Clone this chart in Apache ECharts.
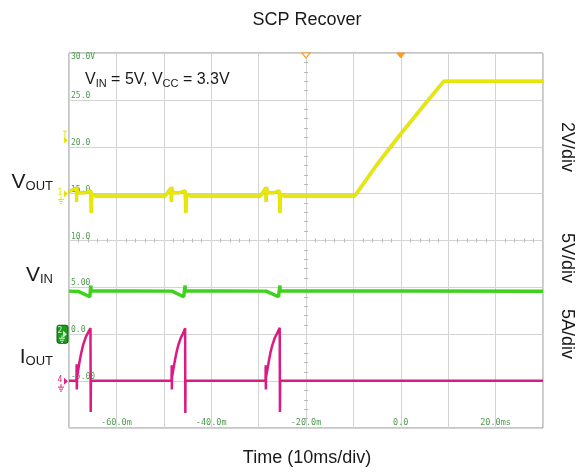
<!DOCTYPE html>
<html>
<head>
<meta charset="utf-8">
<script src="https://cdn.jsdelivr.net/npm/echarts@6/dist/echarts.min.js"></script>
<style>
  html, body { margin: 0; padding: 0; background: #fff; }
  #c { width: 578px; height: 473px; }
</style>
</head>
<body>
<div id="c"></div>
<script>
// Scope capture: time in ms, amplitudes in graticule units (5 per division, as labelled on the left).

// CH1 output voltage
const vout = [
  [-70.0, 15.2], [-68.45, 15.6], [-68.4, 14.1], [-68.35, 15.7], [-68.1, 15.1], [-66.5, 15.1],
  [-65.4, 15.3], [-65.3, 12.95], [-65.2, 14.95], [-64.4, 14.75],
  [-49.7, 14.75], [-48.5, 15.6], [-48.4, 14.1], [-48.35, 15.7], [-48.1, 15.1], [-46.6, 15.1],
  [-45.5, 15.3], [-45.35, 12.95], [-45.25, 14.95], [-44.5, 14.75],
  [-29.6, 14.75], [-28.5, 15.6], [-28.4, 14.1], [-28.35, 15.7], [-28.1, 15.1], [-26.7, 15.1],
  [-25.65, 15.3], [-25.5, 12.95], [-25.4, 14.95], [-24.6, 14.75],
  [-9.7, 14.75], [-5.1, 18.05], [-0.2, 21.25], [5.5, 24.8], [9.1, 27.0], [30.0, 27.0]
];

// CH2 input voltage
const vin = [
  [-70.0, 4.6], [-67.9, 4.55], [-65.6, 4.0], [-65.45, 4.0], [-65.4, 5.2], [-65.35, 4.65],
  [-48.3, 4.6], [-45.8, 4.0], [-45.55, 4.0], [-45.5, 5.2], [-45.45, 4.65],
  [-28.4, 4.6], [-25.8, 4.0], [-25.55, 4.0], [-25.5, 5.2], [-25.45, 4.65],
  [30.0, 4.6]
];

// CH4 output current
const iout = [
  [-70.0, -4.95], [-68.42, -4.95], [-68.38, -3.2], [-68.35, -5.9], [-68.3, -4.6], [-68.05, -3.8],
  [-67.7, -2.7], [-67.35, -1.85], [-67.0, -1.1], [-66.5, -0.35], [-65.95, 0.2], [-65.47, 0.65],
  [-65.42, -8.3], [-65.38, -4.95],
  [-48.36, -4.95], [-48.33, -3.3], [-48.3, -5.9], [-48.27, -4.6], [-48.0, -3.8], [-47.64, -2.75],
  [-47.28, -1.85], [-46.94, -1.15], [-46.43, -0.4], [-45.89, 0.15], [-45.5, 0.65],
  [-45.46, -8.4], [-45.42, -4.95],
  [-28.53, -4.95], [-28.5, -3.3], [-28.47, -5.9], [-28.44, -4.6], [-28.15, -3.8], [-27.8, -2.75],
  [-27.45, -1.85], [-27.1, -1.15], [-26.6, -0.4], [-26.05, 0.15], [-25.55, 0.7],
  [-25.5, -8.3], [-25.46, -4.95], [30.0, -4.95]
];

// Graticule labels
const xTickValues = [-60, -40, -20, 0, 20];
const xTickText = ['-60.0m', '-40.0m', '-20.0m', '0.0', '20.0ms'];
const yTickValues = [-5, 0, 5, 10, 15, 20, 25];
const yTickText = ['-5.00', '0.0', '5.00', '10.0', '15.0', '20.0', '25.0'];
const yTopValue = 30;
const yTopText = '30.0V';

// Channel reference markers on the left edge: [label, level, colour]
const channelMarkers = [
  ['1', 15, '#e3e300'],
  ['2', 0, '#1f9a1f'],
  ['4', -5, '#e0208a']
];
const triggerLevel = 20.7;
// Markers along the top edge (time, filled?)
const topMarkers = [[-20, false], [0, true]];

const SANS = '"Liberation Sans", Arial, sans-serif';
const MONO = '"DejaVu Sans Mono", monospace';
const GRID_COLOR = '#d3d3d3';
const LABEL_GREEN = '#4f9a4f';

const chart = echarts.init(document.getElementById('c'), null, { renderer: 'canvas' });

function crossAxisX(inside) {
  return {
    type: 'value', min: -70, max: 30, interval: 10, position: 'bottom',
    axisLine: { show: !inside, onZero: true, onZeroAxisIndex: 2, lineStyle: { color: GRID_COLOR } },
    axisTick: { show: false, inside: inside },
    minorTick: { show: true, splitNumber: 5, length: 2, lineStyle: { color: '#b8b8b8' } },
    axisLabel: { show: false }, splitLine: { show: false }
  };
}
function crossAxisY(inside) {
  return {
    type: 'value', min: -10, max: 30, interval: 5, position: 'left',
    axisLine: { show: !inside, onZero: true, onZeroAxisIndex: 3, lineStyle: { color: GRID_COLOR } },
    axisTick: { show: false, inside: inside },
    minorTick: { show: true, splitNumber: 5, length: 2, lineStyle: { color: '#b8b8b8' } },
    axisLabel: { show: false }, splitLine: { show: false }
  };
}

const option = {
  animation: false,
  backgroundColor: '#ffffff',
  grid: {
    left: 69, top: 53, width: 474, height: 375,
    show: true, borderColor: '#8c8c8c', borderWidth: 1, backgroundColor: 'transparent'
  },
  xAxis: [
    {
      type: 'value', min: -70, max: 30, interval: 10, position: 'bottom',
      axisLine: { show: false }, axisTick: { show: false },
      splitLine: { show: true, lineStyle: { color: GRID_COLOR, width: 1 } },
      axisLabel: {
        inside: true, margin: 1, fontFamily: MONO, fontSize: 8.5, color: LABEL_GREEN,
        showMinLabel: true, showMaxLabel: true,
        formatter: v => { const i = xTickValues.indexOf(v); return i < 0 ? '' : xTickText[i]; }
      }
    },
    crossAxisX(false),
    crossAxisX(true),
    { type: 'value', min: -50, max: 50, show: false }
  ],
  yAxis: [
    {
      type: 'value', min: -10, max: 30, interval: 5, position: 'left',
      axisLine: { show: false }, axisTick: { show: false },
      splitLine: { show: true, lineStyle: { color: GRID_COLOR, width: 1 } },
      axisLabel: {
        inside: true, margin: 2, verticalAlign: 'bottom', fontFamily: MONO, fontSize: 8, color: LABEL_GREEN,
        showMinLabel: true, showMaxLabel: true,
        formatter: v => { const i = yTickValues.indexOf(v); return i < 0 ? '' : yTickText[i]; }
      }
    },
    {
      type: 'value', min: -10, max: 30, interval: 5, position: 'left',
      axisLine: { show: false }, axisTick: { show: false }, splitLine: { show: false },
      axisLabel: {
        inside: true, margin: 2, verticalAlign: 'top', fontFamily: MONO, fontSize: 8, color: LABEL_GREEN,
        showMinLabel: true, showMaxLabel: true,
        formatter: v => (v === yTopValue ? yTopText : '')
      }
    },
    { type: 'value', min: -40, max: 40, show: false },
    crossAxisY(false),
    crossAxisY(true)
  ],
  series: [
    {
      name: 'VOUT', type: 'line', data: vout, showSymbol: false, xAxisIndex: 0, yAxisIndex: 0,
      lineStyle: { color: '#e8e800', width: 3, shadowColor: 'rgba(160,160,0,0.8)', shadowBlur: 1 },
      z: 5
    },
    {
      name: 'VIN', type: 'line', data: vin, showSymbol: false, xAxisIndex: 0, yAxisIndex: 0,
      lineStyle: { color: '#3ed21c', width: 3.5 }, z: 5
    },
    {
      name: 'IOUT', type: 'line', data: iout, showSymbol: false, xAxisIndex: 0, yAxisIndex: 0,
      lineStyle: { color: '#dc1a82', width: 2.5 }, z: 5
    }
  ],
  graphic: []
};

chart.setOption(option);

// ---------- annotations ----------
const g = [];

g.push({ type: 'text', x: 307, y: 20, style: { text: 'SCP Recover', fontFamily: SANS, fontSize: 18, fill: '#1a1a1a', align: 'center', verticalAlign: 'middle' } });
g.push({ type: 'text', x: 307, y: 458, style: { text: 'Time (10ms/div)', fontFamily: SANS, fontSize: 18, fill: '#1a1a1a', align: 'center', verticalAlign: 'middle' } });

// channel names on the left
function chanName(main, sub, baseline) {
  return {
    type: 'text', x: 53, y: baseline + 3,
    style: {
      text: '{v|' + main + '}{s|' + sub + '}', align: 'right', verticalAlign: 'bottom', fill: '#1a1a1a',
      rich: {
        v: { fontFamily: SANS, fontSize: 21, verticalAlign: 'bottom', fill: '#1a1a1a' },
        s: { fontFamily: SANS, fontSize: 13, verticalAlign: 'bottom', fill: '#1a1a1a' }
      }
    }
  };
}
g.push(chanName('V', 'OUT', 190));
g.push(chanName('V', 'IN', 283));
g.push(chanName('I', 'OUT', 365));

// scale factors on the right, reading downward
[['2V/div', 147], ['5V/div', 258], ['5A/div', 334]].forEach(([t, cy]) => {
  g.push({ type: 'text', x: 567, y: cy, rotation: -Math.PI / 2,
    style: { text: t, fontFamily: SANS, fontSize: 18, fill: '#1a1a1a', align: 'center', verticalAlign: 'middle' } });
});

// test condition
g.push({
  type: 'text', x: 85, y: 69.4, z: 10,
  style: {
    text: '{m|V}{s|IN}{m| = 5V, V}{s|CC}{m| = 3.3V}', align: 'left', verticalAlign: 'top',
    rich: {
      m: { fontFamily: SANS, fontSize: 16, lineHeight: 20, verticalAlign: 'middle', fill: '#1a1a1a' },
      s: { fontFamily: SANS, fontSize: 11, lineHeight: 20, verticalAlign: 'top', padding: [9, 0, 0, 0], fill: '#1a1a1a' }
    }
  }
});

const toPx = (t, v) => chart.convertToPixel({ seriesIndex: 0 }, [t, v]);
const xLeft = toPx(-70, 0)[0];
const yTop = toPx(0, 30)[1];

function groundSymbol(gx, gy, color) {
  return [
    { type: 'line', shape: { x1: gx, y1: gy, x2: gx, y2: gy + 3 }, style: { stroke: color, lineWidth: 1 } },
    { type: 'line', shape: { x1: gx - 3, y1: gy + 3, x2: gx + 3, y2: gy + 3 }, style: { stroke: color, lineWidth: 1 } },
    { type: 'line', shape: { x1: gx - 2, y1: gy + 5, x2: gx + 2, y2: gy + 5 }, style: { stroke: color, lineWidth: 1 } },
    { type: 'line', shape: { x1: gx - 1, y1: gy + 7, x2: gx + 1, y2: gy + 7 }, style: { stroke: color, lineWidth: 1 } }
  ];
}

channelMarkers.forEach(([lab, level, color]) => {
  const y0 = toPx(0, level)[1];
  if (lab === '2') {
    g.push({ type: 'rect', shape: { x: xLeft - 12, y: y0 - 9, width: 11, height: 18, r: 2 },
      style: { fill: color, stroke: '#0b5e0b', lineWidth: 1 } });
    g.push({ type: 'text', x: xLeft - 9, y: y0 - 3, style: { text: lab, fontFamily: MONO, fontSize: 8, fill: '#c8f5c8', align: 'center', verticalAlign: 'middle' } });
    g.push({ type: 'polygon', shape: { points: [[xLeft - 6, y0 - 3.5], [xLeft - 2, y0], [xLeft - 6, y0 + 3.5]] }, style: { fill: '#c8f5c8' } });
    groundSymbol(xLeft - 7, y0 + 1, '#c8f5c8').forEach(e => g.push(e));
  } else {
    g.push({ type: 'text', x: xLeft - 9, y: y0 - 1, style: { text: lab, fontFamily: MONO, fontSize: 8, fill: color, align: 'center', verticalAlign: 'middle' } });
    g.push({ type: 'polygon', shape: { points: [[xLeft - 5, y0 - 3.5], [xLeft - 1, y0], [xLeft - 5, y0 + 3.5]] }, style: { fill: color } });
    groundSymbol(xLeft - 8, y0 + 3, color).forEach(e => g.push(e));
  }
});

// trigger level marker
(function () {
  const y0 = toPx(0, triggerLevel)[1];
  const c = '#e3e300';
  g.push({ type: 'line', shape: { x1: xLeft - 6, y1: y0 - 9, x2: xLeft - 2, y2: y0 - 9 }, style: { stroke: c, lineWidth: 1 } });
  g.push({ type: 'line', shape: { x1: xLeft - 4, y1: y0 - 9, x2: xLeft - 4, y2: y0 - 2 }, style: { stroke: c, lineWidth: 1 } });
  g.push({ type: 'polygon', shape: { points: [[xLeft - 5, y0 - 3], [xLeft - 1, y0], [xLeft - 5, y0 + 3]] }, style: { fill: c } });
})();

// time markers on the top edge
topMarkers.forEach(([t, filled]) => {
  const x0 = toPx(t, 0)[0];
  g.push({ type: 'polygon', z: 20, shape: { points: [[x0 - 4, yTop], [x0 + 4, yTop], [x0, yTop + 5]] },
    style: filled ? { fill: '#ff9a1a', stroke: '#ff9a1a', lineWidth: 1 } : { fill: '#ffffff', stroke: '#ff9a1a', lineWidth: 1.2 } });
});

chart.setOption({ graphic: g });
</script>
</body>
</html>
